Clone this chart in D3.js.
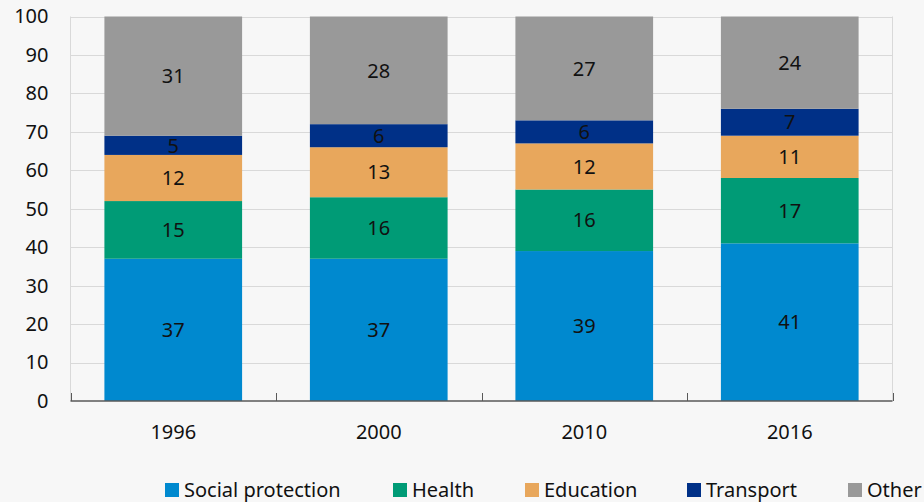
<!DOCTYPE html>
<html>
<head>
<meta charset="utf-8">
<script src="https://cdn.jsdelivr.net/npm/d3@7"></script>
<style>
  html, body { margin: 0; padding: 0; background: #f7f7f7; }
  svg { display: block; }
  text { font-family: "Noto Sans", "Open Sans", sans-serif; fill: #111; }
</style>
</head>
<body>
<svg id="chart" width="924" height="502"></svg>
<script>
// Shares of spending by function (per cent of total)
const years = ["1996", "2000", "2010", "2016"];
const seriesNames = ["Social protection", "Health", "Education", "Transport", "Other"];
const socialProtection = [37, 37, 39, 41];
const health = [15, 16, 16, 17];
const education = [12, 13, 12, 11];
const transport = [5, 6, 6, 7];
const other = [31, 28, 27, 24];
const yTicks = [0, 10, 20, 30, 40, 50, 60, 70, 80, 90, 100];
const colors = ["#0089cf", "#009b76", "#e8a75c", "#003087", "#999999"];

const seriesValues = [socialProtection, health, education, transport, other];
const rows = years.map((yr, i) => {
  const r = { year: yr };
  seriesNames.forEach((s, k) => { r[s] = seriesValues[k][i]; });
  return r;
});

const FONT = 20;
const svg = d3.select("#chart");
const plotLeft = 70.5, plotRight = 892.5, plotTop = 16.5, plotBottom = 401;

const x = d3.scaleBand().domain(years).range([plotLeft, plotRight])
  .paddingInner(0.33).paddingOuter(0.165);
const y = d3.scaleLinear().domain([0, 100]).range([plotBottom, plotTop]);

// Gridlines
svg.append("g")
  .selectAll("line")
  .data(yTicks.filter(t => t > 0))
  .join("line")
  .attr("x1", plotLeft).attr("x2", plotRight)
  .attr("y1", d => Math.round(y(d)) + 0.5).attr("y2", d => Math.round(y(d)) + 0.5)
  .attr("stroke", "#d9d9d9").attr("stroke-width", 1);

// Plot frame sides
svg.append("line").attr("x1", plotLeft).attr("x2", plotLeft).attr("y1", plotTop).attr("y2", plotBottom)
  .attr("stroke", "#d9d9d9");
svg.append("line").attr("x1", plotRight).attr("x2", plotRight).attr("y1", plotTop).attr("y2", plotBottom)
  .attr("stroke", "#d9d9d9");

// Stacked bars
const stack = d3.stack().keys(seriesNames)(rows);
const layers = svg.append("g").selectAll("g")
  .data(stack)
  .join("g")
  .attr("fill", (d, i) => colors[i]);

layers.selectAll("rect")
  .data(d => d)
  .join("rect")
  .attr("x", d => x(d.data.year))
  .attr("width", x.bandwidth())
  .attr("y", d => y(d[1]))
  .attr("height", d => y(d[0]) - y(d[1]));

// Value labels
layers.selectAll("text")
  .data(d => d.map(v => ({ v, key: d.key })))
  .join("text")
  .attr("x", d => x(d.v.data.year) + x.bandwidth() / 2)
  .attr("y", d => (y(d.v[0]) + y(d.v[1])) / 2)
  .attr("dy", "0.36em")
  .attr("text-anchor", "middle")
  .attr("font-size", FONT)
  .attr("fill", "#111")
  .text(d => d.v.data[d.key]);

// Y axis labels
const yAxis = svg.append("g")
  .attr("transform", `translate(${plotLeft},0)`)
  .call(d3.axisLeft(y).tickValues(yTicks).tickSize(0).tickPadding(22));
yAxis.select(".domain").remove();
yAxis.selectAll("text").attr("font-size", FONT).attr("fill", "#111")
  .style("font-family", "'Noto Sans', 'Open Sans', sans-serif");

// X axis baseline with inward ticks at category boundaries
const boundaries = [plotLeft];
years.forEach(yr => boundaries.push(x(yr) + x.bandwidth() + x.step() * x.paddingInner() / 2));
boundaries[boundaries.length - 1] = plotRight;
svg.append("line").attr("x1", plotLeft).attr("x2", plotRight)
  .attr("y1", plotBottom).attr("y2", plotBottom)
  .attr("stroke", "#595959").attr("stroke-width", 1.5);
svg.append("g").selectAll("line")
  .data(boundaries)
  .join("line")
  .attr("x1", d => Math.round(d) + 0.5).attr("x2", d => Math.round(d) + 0.5)
  .attr("y1", plotBottom - 8).attr("y2", plotBottom)
  .attr("stroke", "#595959").attr("stroke-width", 1);

const xAxis = svg.append("g")
  .attr("transform", `translate(0,${plotBottom})`)
  .call(d3.axisBottom(x).tickSize(0).tickPadding(24));
xAxis.select(".domain").remove();
xAxis.selectAll("text").attr("font-size", FONT).attr("fill", "#111")
  .style("font-family", "'Noto Sans', 'Open Sans', sans-serif");

// Legend
const legendX = [165, 393, 525, 687, 848];
const legend = svg.append("g").selectAll("g")
  .data(seriesNames)
  .join("g")
  .attr("transform", (d, i) => `translate(${legendX[i]},483)`);
legend.append("rect").attr("width", 14).attr("height", 14)
  .attr("fill", (d, i) => colors[i]);
legend.append("text").attr("x", 19).attr("y", 7).attr("dy", "0.36em")
  .attr("font-size", FONT).text(d => d);
</script>
</body>
</html>
